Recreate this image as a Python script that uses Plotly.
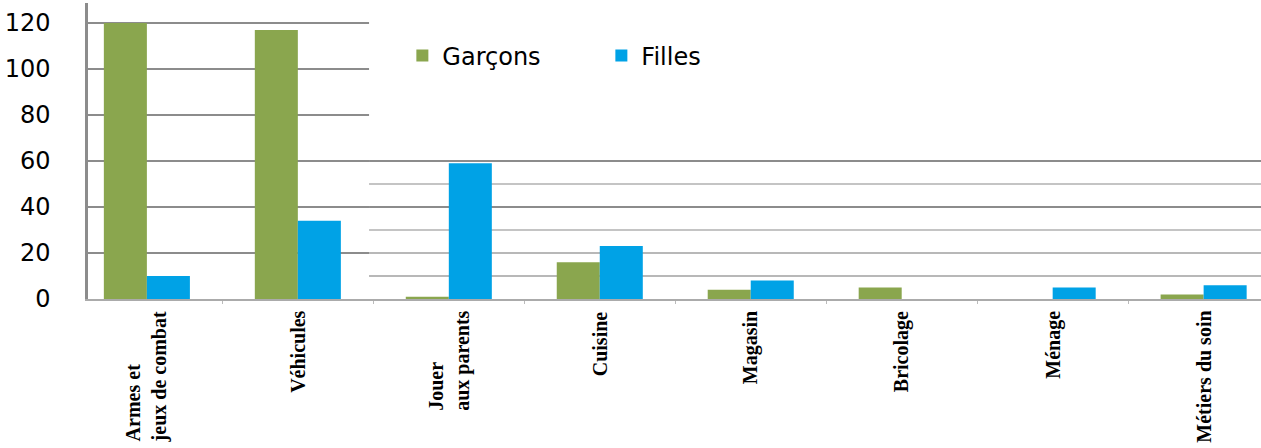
import plotly.graph_objects as go

categories = ["Armes et<br>jeux de combat", "Véhicules", "Jouer<br>aux parents", "Cuisine",
              "Magasin", "Bricolage", "Ménage", "Métiers du soin"]
garcons = [120, 117, 1, 16, 4, 5, 0, 2]
filles = [10, 34, 59, 23, 8, 0, 5, 6]
y_ticks = [0, 20, 40, 60, 80, 100, 120]
left_grid = [20, 40, 60, 80, 100, 120]
right_grid_major = [40, 60]
right_grid_minor = [30, 50]
right_grid_low = [10, 20]

GREEN = "#8AA64E"
BLUE = "#00A2E6"
SPLIT = 0.2396  # where the lower grid section begins (paper fraction)

fig = go.Figure()
fig.add_trace(go.Bar(name="Garçons", x=categories, y=garcons, marker_color=GREEN,
                     marker_line_width=0))
fig.add_trace(go.Bar(name="Filles", x=categories, y=filles, marker_color=BLUE,
                     marker_line_width=0))

shapes = []
for v in left_grid:
    shapes.append(dict(type="line", xref="paper", yref="y", x0=0, x1=SPLIT, y0=v, y1=v,
                       line=dict(color="#8C8C8C", width=2), layer="below"))
for v in right_grid_major:
    shapes.append(dict(type="line", xref="paper", yref="y", x0=SPLIT, x1=1, y0=v, y1=v,
                       line=dict(color="#8C8C8C", width=2), layer="below"))
for v in right_grid_minor:
    shapes.append(dict(type="line", xref="paper", yref="y", x0=SPLIT, x1=1, y0=v, y1=v,
                       line=dict(color="#C4C4C4", width=2), layer="below"))
for v in right_grid_low:
    shapes.append(dict(type="line", xref="paper", yref="y", x0=SPLIT, x1=1, y0=v, y1=v,
                       line=dict(color="#A0A0A0", width=1.5), layer="below"))

annotations = []
for c in categories:
    annotations.append(dict(x=c, xref="x", y=0, yref="paper", yshift=-10,
                            text="<b>" + c + "</b>", showarrow=False, textangle=-90,
                            xanchor="center", yanchor="top", align="left",
                            font=dict(family="Liberation Serif", size=20, color="#000000")))

fig.update_layout(
    width=1261, height=448,
    margin=dict(l=88, r=0, t=3, b=149),
    paper_bgcolor="white", plot_bgcolor="white",
    barmode="group", bargap=0.43, bargroupgap=0,
    showlegend=True,
    legend=dict(orientation="h", x=0.268, xanchor="left", y=0.821, yanchor="middle",
                font=dict(family="DejaVu Sans", size=24, color="#000000"),
                entrywidth=154, entrywidthmode="pixels", bgcolor="rgba(0,0,0,0)"),
    shapes=shapes,
    annotations=annotations,
    xaxis=dict(type="category", range=[-0.39, 7.38], showticklabels=False,
               showgrid=False, zeroline=False, showline=True, linecolor="#ABABAB", linewidth=2,
               ticks="outside", tickson="boundaries", ticklen=3, tickcolor="#BBBBBB"),
    yaxis=dict(range=[0, 128.7], tickvals=y_ticks, showgrid=False, zeroline=False,
               showline=True, linecolor="#8C8C8C", linewidth=2.5, ticks="",
               ticklabelstandoff=30,
               tickfont=dict(family="DejaVu Sans", size=24, color="#000000")),
)

fig.write_html("out.html", config={"displayModeBar": False},
               post_script="document.body.style.margin='0';")
